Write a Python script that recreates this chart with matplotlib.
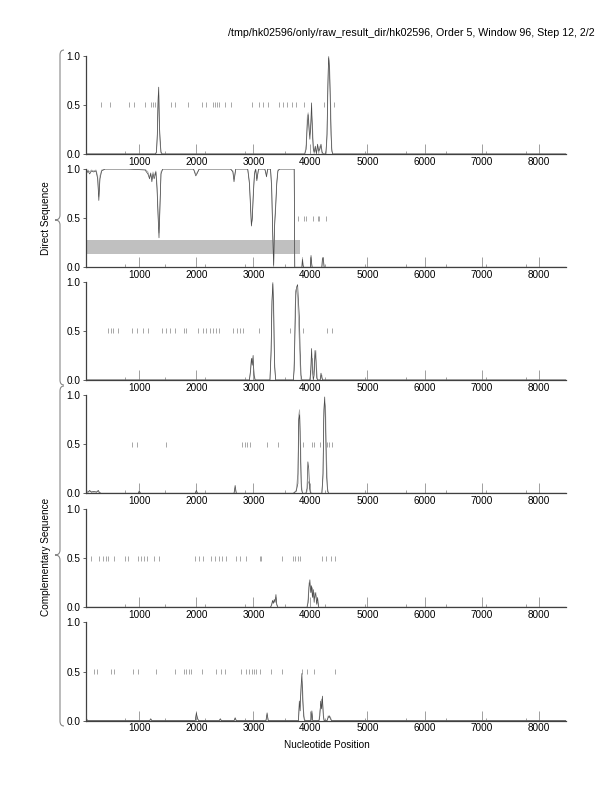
import matplotlib
matplotlib.use('agg')
import matplotlib.pyplot as plt
from matplotlib.path import Path
from matplotlib.patches import PathPatch

plt.rcParams['font.family'] = ['Liberation Sans', 'DejaVu Sans']

title = "/tmp/hk02596/only/raw_result_dir/hk02596, Order 5, Window 96, Step 12, 2/2"
xlabel = "Nucleotide Position"
strand_labels = ["Direct Sequence", "Complementary Sequence"]

x_range = (60, 8480)
major_ticks = [1000, 2000, 3000, 4000, 5000, 6000, 7000, 8000]
minor_ticks = [750, 1450, 2150, 2850, 3550, 4250, 4950, 5680, 6370, 7080, 7780]
y_ticks = [0.0, 0.5, 1.0]

# panel 1
p1_x = [60, 1280, 1300, 1315, 1328, 1340, 1352, 1365, 1380, 1400,
        3900, 3925, 3945, 3960, 3975, 3990, 4005, 4020, 4035, 4050,
        4065, 4085, 4105, 4125, 4145, 4165, 4185, 4205, 4225,
        4270, 4290, 4305, 4318, 4330, 4345, 4360, 4375, 4390, 8480]
p1_dark = [0, 0, 0.02, 0.2, 0.55, 0.68, 0.3, 0.15, 0.02, 0,
           0, 0.05, 0.3, 0.4, 0.25, 0.15, 0.3, 0.52, 0.2, 0.05,
           0.02, 0.08, 0, 0.1, 0.03, 0.05, 0.1, 0.02, 0,
           0, 0.2, 0.7, 0.98, 0.9, 0.6, 0.2, 0.03, 0, 0]
p1_gray = [0, 0, 0.01, 0.15, 0.45, 0.6, 0.25, 0.1, 0.01, 0,
           0, 0.1, 0.38, 0.42, 0.3, 0.2, 0.25, 0.4, 0.3, 0.1,
           0, 0.05, 0.02, 0.08, 0, 0.08, 0.06, 0, 0,
           0, 0.15, 0.6, 1.0, 0.95, 0.75, 0.35, 0.05, 0, 0]
stops1 = [322, 485, 822, 910, 1102, 1196, 1236, 1277, 1563, 1633, 1854, 2093, 2163,
          2290, 2320, 2355, 2400, 2495, 2600, 2972, 3090, 3160, 3260, 3457, 3522,
          3590, 3672, 3742, 3889, 4231, 4406]

# panel 2
p2_x = [60, 80, 100, 130, 160, 200, 240, 270, 290, 310,
        340, 400, 800, 1100, 1150, 1180, 1200, 1220, 1240, 1260,
        1290, 1310, 1330, 1345, 1360, 1380, 1410, 1500, 1950, 1990,
        2010, 2050, 2600, 2640, 2660, 2690, 2900, 2930, 2950, 2965,
        2980, 3000, 3020, 3040, 3060, 3090, 3120, 3200, 3230, 3250,
        3300, 3320, 3340, 3355, 3370, 3390, 3410, 3430, 3460, 3715,
        3725, 3850, 3860, 3870, 3880, 4000, 4010, 4020, 4030, 4200,
        4210, 4225, 4240, 8480]
p2_dark = [0.98, 0.96, 0.98, 0.95, 0.98, 0.97, 0.98, 0.9, 0.68, 0.9,
           0.98, 1.0, 1.0, 0.99, 0.95, 0.9, 0.96, 0.87, 0.95, 0.9,
           0.97, 0.8, 0.5, 0.3, 0.6, 0.95, 1.0, 1.0, 1.0, 0.93,
           0.95, 1.0, 1.0, 0.97, 0.87, 1.0, 1.0, 0.85, 0.6, 0.42,
           0.5, 0.75, 0.95, 1.0, 0.88, 1.0, 1.0, 1.0, 0.92, 1.0,
           1.0, 0.8, 0.3, 0.02, 0.4, 0.6, 0.85, 0.98, 1.0, 1.0,
           0.0, 0, 0.08, 0.02, 0, 0, 0.12, 0.05, 0, 0,
           0.08, 0.1, 0, 0]
p2_gray = [0.99, 0.97, 0.99, 0.97, 0.99, 0.98, 0.99, 0.93, 0.72, 0.93,
           0.99, 1.0, 1.0, 1.0, 0.97, 0.92, 0.94, 0.9, 0.97, 0.93,
           0.98, 0.85, 0.55, 0.35, 0.55, 0.97, 1.0, 1.0, 1.0, 0.95,
           0.96, 1.0, 1.0, 0.98, 0.9, 1.0, 1.0, 0.88, 0.65, 0.45,
           0.48, 0.8, 0.97, 1.0, 0.9, 1.0, 1.0, 1.0, 0.94, 1.0,
           1.0, 0.85, 0.35, 0.0, 0.45, 0.65, 0.88, 0.99, 1.0, 1.0,
           0.0, 0, 0.1, 0.03, 0, 0, 0.1, 0.03, 0, 0,
           0.1, 0.07, 0, 0]
stops2 = [3777, 3894, 3923, 4040, 4127, 4157, 4273]
orf_start, orf_end = 1, 3824
orf_low, orf_high = 0.14, 0.28

# panel 3
p3_x = [60, 2930, 2950, 2965, 2980, 2995, 3010, 3030,
        3290, 3310, 3325, 3340, 3355, 3370, 3390,
        3700, 3715, 3730, 3745, 3760, 3775, 3790, 3805, 3820, 3835, 3850, 3870,
        3990, 4005, 4020, 4035, 4050, 4065, 4080, 4095, 4110, 4125, 4140,
        4170, 4185, 4200, 4215, 8480]
p3_dark = [0, 0, 0.1, 0.22, 0.15, 0.25, 0.05, 0,
           0, 0.3, 0.8, 0.98, 0.7, 0.15, 0,
           0, 0.1, 0.5, 0.9, 0.95, 0.97, 0.8, 0.65, 0.3, 0.05, 0, 0,
           0, 0.1, 0.32, 0.1, 0, 0.05, 0.3, 0.2, 0.02, 0, 0,
           0, 0.07, 0.02, 0, 0]
p3_gray = [0, 0, 0.08, 0.2, 0.22, 0.18, 0.08, 0,
           0, 0.25, 0.75, 1.0, 0.8, 0.2, 0,
           0, 0.2, 0.7, 0.92, 0.9, 0.85, 0.6, 0.4, 0.15, 0, 0, 0,
           0, 0.05, 0.2, 0.22, 0.05, 0.1, 0.25, 0.3, 0.1, 0, 0,
           0, 0.04, 0.05, 0, 0]
stops3 = [455, 502, 543, 630, 875, 952, 1067, 1154, 1399, 1459, 1546, 1621, 1784,
          1826, 2029, 2116, 2176, 2233, 2291, 2350, 2390, 2640, 2710, 2770, 2815,
          3095, 3644, 3864, 4290, 4378]

# panel 4
p4_x = [60, 100, 130, 160, 200, 250, 280, 300, 330, 600,
        980, 1000, 1020, 1980, 2000, 2020, 2660, 2680, 2700,
        3700, 3750, 3780, 3795, 3810, 3825, 3840, 3860,
        3920, 3940, 3955, 3970, 3985, 4000, 4020,
        4200, 4220, 4235, 4250, 4265, 4280, 4300, 4320, 8480]
p4_dark = [0.02, 0.01, 0.03, 0.01, 0.02, 0.01, 0.03, 0.01, 0, 0,
           0, 0.02, 0, 0, 0.03, 0, 0, 0.08, 0,
           0, 0.02, 0.1, 0.75, 0.8, 0.4, 0.05, 0,
           0, 0.05, 0.32, 0.25, 0.05, 0, 0,
           0, 0.2, 0.85, 0.98, 0.7, 0.2, 0.02, 0, 0]
p4_gray = [0.03, 0.02, 0.02, 0.02, 0.01, 0.02, 0.02, 0, 0, 0,
           0, 0.03, 0, 0, 0.02, 0, 0, 0.05, 0,
           0, 0.03, 0.2, 0.8, 0.85, 0.6, 0.1, 0,
           0, 0.02, 0.1, 0.12, 0.08, 0.02, 0,
           0, 0.15, 0.75, 0.92, 0.88, 0.4, 0.05, 0, 0]
stops4 = [864, 952, 1476, 2797, 2857, 2892, 2944, 3242, 3439, 3864, 4022, 4069,
          4169, 4290, 4330, 4378]

# panel 5
p5_x = [60, 3300, 3320, 3335, 3350, 3365, 3380, 3395, 3410, 3430,
        3940, 3960, 3975, 3990, 4005, 4020, 4035, 4050, 4065, 4080, 4095, 4110,
        4125, 4145, 8480]
p5_dark = [0, 0, 0.03, 0.07, 0.04, 0.08, 0.05, 0.13, 0.03, 0,
           0, 0.05, 0.2, 0.28, 0.15, 0.22, 0.1, 0.18, 0.05, 0.15, 0.12, 0.03,
           0.1, 0, 0]
p5_gray = [0, 0, 0.02, 0.05, 0.06, 0.05, 0.08, 0.1, 0.02, 0,
           0, 0.1, 0.25, 0.22, 0.2, 0.15, 0.2, 0.12, 0.1, 0.1, 0.15, 0.05,
           0.05, 0, 0]
stops5 = [153, 293, 368, 415, 445, 555, 747, 805, 969, 1027, 1085, 1126, 1254,
          1347, 1971, 2046, 2116, 2250, 2333, 2390, 2448, 2513, 2700, 2757, 2862,
          3107, 3125, 3504, 3690, 3737, 3777, 3819, 4203, 4273, 4360, 4430]

# panel 6
p6_x = [60, 75, 100, 1180, 1200, 1220, 1980, 2000, 2020, 2040,
        2400, 2420, 2440, 2660, 2680, 2700, 3220, 3240, 3260,
        3790, 3805, 3820, 3835, 3850, 3865, 3880, 3895, 3910,
        4010, 4025, 4040, 4150, 4165, 4180, 4195, 4210, 4225, 4240,
        4290, 4310, 4330, 4350, 4370, 8480]
p6_dark = [0.15, 0.01, 0, 0, 0.02, 0, 0, 0.08, 0.02, 0,
           0, 0.02, 0, 0, 0.03, 0, 0, 0.08, 0,
           0, 0.2, 0.1, 0.35, 0.48, 0.2, 0.05, 0, 0,
           0, 0.1, 0, 0, 0.05, 0.2, 0.12, 0.25, 0.05, 0,
           0, 0.03, 0.05, 0.02, 0, 0]
p6_gray = [0.1, 0.02, 0, 0, 0.01, 0, 0, 0.06, 0.03, 0,
           0, 0.01, 0, 0, 0.02, 0, 0, 0.06, 0,
           0, 0.15, 0.2, 0.3, 0.4, 0.3, 0.1, 0.02, 0,
           0, 0.08, 0, 0, 0.1, 0.15, 0.22, 0.2, 0.08, 0,
           0, 0.05, 0.03, 0.04, 0, 0]
stops6 = [210, 252, 502, 560, 892, 980, 1301, 1621, 1784, 1826, 1866, 1913, 2098,
          2350, 2425, 2508, 2787, 2862, 2915, 2972, 3007, 3050, 3120, 3312, 3504,
          3847, 3934, 4069, 4430]

panels = [(p1_x, p1_dark, p1_gray, stops1),
          (p2_x, p2_dark, p2_gray, stops2),
          (p3_x, p3_dark, p3_gray, stops3),
          (p4_x, p4_dark, p4_gray, stops4),
          (p5_x, p5_dark, p5_gray, stops5),
          (p6_x, p6_dark, p6_gray, stops6)]

W, H = 612, 792
fig = plt.figure(figsize=(W / 100, H / 100), dpi=100)

# pixel layout of the panels (bottom edge of each)
left_px, width_px, height_px = 85.7, 480.3, 98.3
bottoms_px = [154, 267.3, 380, 493.3, 607.3, 720.7]

for i, (xs, dark, gray, stops) in enumerate(panels):
    ax = fig.add_axes([left_px / W, 1 - bottoms_px[i] / H, width_px / W, height_px / H])
    if i == 1:
        ax.broken_barh([(orf_start, orf_end - orf_start)], (orf_low, orf_high - orf_low),
                       facecolor='#c0c0c0', edgecolor='none', zorder=1)
    ax.plot(xs, gray, color='#a8a8a8', lw=0.55, zorder=2)
    ax.plot(xs, dark, color='#4a4a4a', lw=0.5, zorder=3)
    ax.vlines(stops, 0.475, 0.525, color='#999999', lw=0.6, zorder=2)

    ax.set_xlim(*x_range)
    ax.set_ylim(0, 1.0)
    ax.set_xticks(major_ticks)
    ax.set_xticks(minor_ticks, minor=True)
    ax.set_yticks(y_ticks)
    ax.set_yticklabels(["0.0", "0.5", "1.0"])
    for s in ['top', 'right']:
        ax.spines[s].set_visible(False)
    for s in ['left', 'bottom']:
        ax.spines[s].set_color('#404040')
        ax.spines[s].set_linewidth(0.9)
    ax.tick_params(axis='x', which='major', direction='in', length=7, width=0.7,
                   color='#a0a0a0', labelsize=7.2, pad=2)
    ax.tick_params(axis='x', which='minor', direction='in', length=2.5, width=0.7,
                   color='#a0a0a0')
    ax.tick_params(axis='y', direction='out', length=2, width=0.7, color='#606060',
                   labelsize=7.2, pad=2)
    ax.set_facecolor('none')


def brace(x0, top, mid, bot):
    # curly brace drawn in pixel coords, opening to the right
    def p(x, y):
        return (x / W, 1 - y / H)
    verts = [p(x0 + 4, top), p(x0, top), p(x0, top + 5),
             p(x0, mid - 5), p(x0, mid), p(x0 - 5, mid),
             p(x0, mid), p(x0, mid + 5),
             p(x0, bot - 5), p(x0, bot), p(x0 + 4, bot)]
    codes = [Path.MOVETO, Path.CURVE3, Path.CURVE3,
             Path.LINETO, Path.CURVE3, Path.CURVE3,
             Path.CURVE3, Path.CURVE3,
             Path.LINETO, Path.CURVE3, Path.CURVE3]
    fig.add_artist(PathPatch(Path(verts, codes), transform=fig.transFigure,
                             facecolor='none', edgecolor='#888888', lw=0.8))


brace(60, 50, 220, 385)
brace(60, 386, 555, 726)

fig.text(46 / W, 1 - 218 / H, strand_labels[0], rotation=90, ha='center', va='center', fontsize=7.2)
fig.text(46 / W, 1 - 557 / H, strand_labels[1], rotation=90, ha='center', va='center', fontsize=7.2)
fig.text(595 / W, 1 - 33 / H, title, ha='right', va='center', fontsize=7.7)
fig.text(327 / W, 1 - 745 / H, xlabel, ha='center', va='center', fontsize=7.2)

fig.savefig('out.png', dpi=100)
